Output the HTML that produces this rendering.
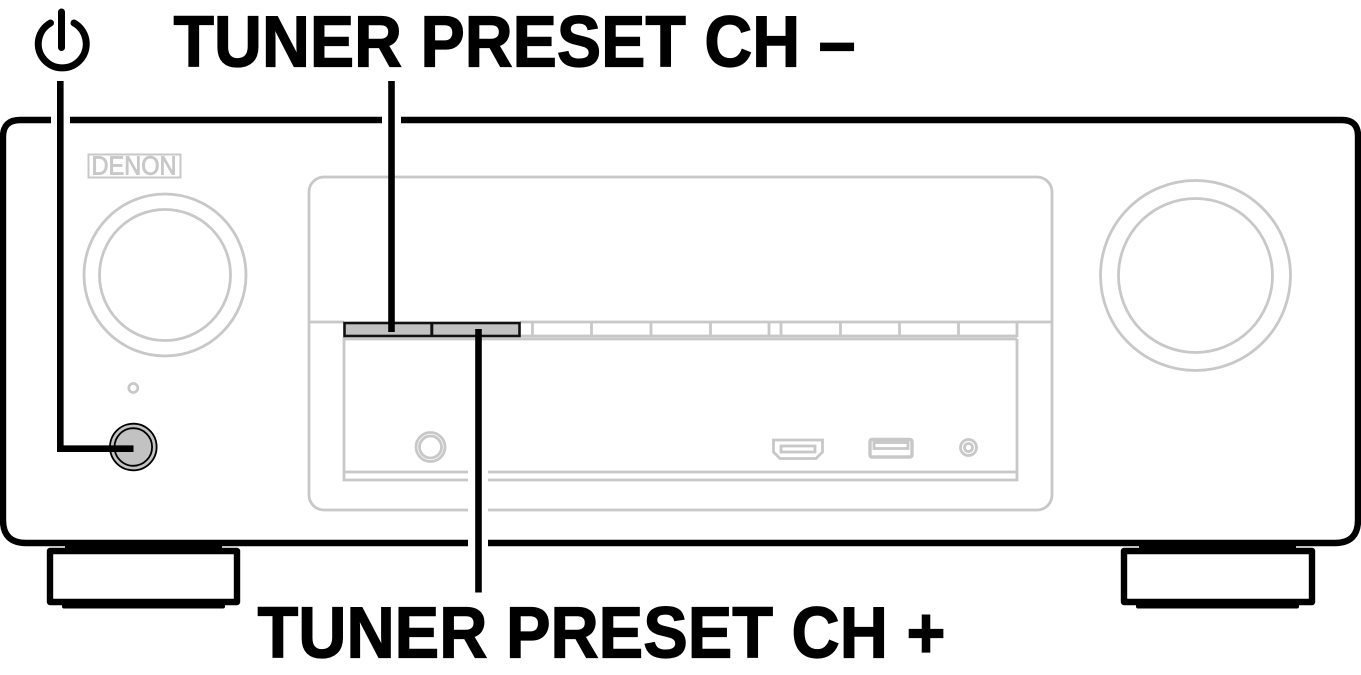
<!DOCTYPE html>
<html><head><meta charset="utf-8"><style>
html,body{margin:0;padding:0;background:#fff;overflow:hidden}
svg{display:block}
text{font-family:"Liberation Sans",sans-serif}
</style></head><body>
<svg width="1361" height="675" viewBox="0 0 1361 675" xmlns="http://www.w3.org/2000/svg">
<rect width="1361" height="675" fill="#fff"/>
<!-- gray drawing -->
<g fill="none" stroke="#c8c8c8" stroke-width="2.800">
  <rect x="309" y="177" width="743" height="333" rx="15"/>
  <path d="M309 322H344M1017 322H1052"/>
  <path d="M520 322H1017V337M520 336H1017M344 339H1017M344 337V480H1017V339M344 472H1017"/>
  <path d="M532.500 322V336M591.500 322V336M651 322V336M710.500 322V336M769 322V336M781 322V336M840.500 322V336M899.500 322V336M958.500 322V336"/>
  <circle cx="165" cy="275" r="81"/><circle cx="165" cy="275" r="65.500"/>
  <circle cx="1195.500" cy="275.500" r="95"/><circle cx="1195.500" cy="275.500" r="77"/>
  <circle cx="133.300" cy="388" r="4.500"/>
  <circle cx="430.500" cy="447" r="14.500"/><circle cx="430.500" cy="447" r="11"/>
  <path d="M773.500 440H822.500V452L816 458.500H780L773.500 452Z"/><rect x="781" y="446" width="34" height="6"/>
  <rect x="870" y="439.500" width="42" height="17.500" rx="2" stroke-width="3.400"/><rect x="874" y="442.500" width="34" height="6"/>
  <circle cx="968.500" cy="447.500" r="8"/><circle cx="968.500" cy="447.500" r="4"/>
</g>
<!-- DENON -->
<rect x="88.500" y="154.500" width="92" height="23" fill="none" stroke="#c8c8c8" stroke-width="2"/>
<text x="91.500" y="174.500" font-size="26" fill="#c8c8c8" stroke="#c8c8c8" stroke-width="0.900" textLength="85" lengthAdjust="spacingAndGlyphs">DENON</text>
<!-- body -->
<path d="M20 120H1342Q1358 120 1358 136V520Q1358 543 1335 543H26Q3 543 3 520V137Q3 120 20 120Z" fill="none" stroke="#000" stroke-width="6.400"/>
<!-- feet -->
<g fill="#fff" stroke="#000" stroke-width="6.400" stroke-linejoin="round">
  <rect x="50" y="551" width="187" height="51"/>
  <rect x="1124" y="551" width="188" height="51"/>
</g>
<g fill="#000">
  <rect x="65" y="540" width="157" height="10"/><rect x="62" y="600" width="163" height="8.500" rx="2"/>
  <rect x="1139" y="540" width="157" height="10"/><rect x="1136" y="600" width="163" height="8.500" rx="2"/>
</g>
<!-- highlighted buttons -->
<rect x="344.500" y="323" width="175" height="13" fill="#c2c2c2" stroke="#111" stroke-width="2.600"/>
<path d="M431.800 322V337" stroke="#111" stroke-width="3"/>
<circle cx="133.300" cy="447" r="23.300" fill="#c2c2c2" stroke="#000" stroke-width="1.800"/>
<circle cx="133.300" cy="447" r="18.800" fill="#c2c2c2" stroke="#000" stroke-width="1.800"/>
<!-- white gaps -->
<g fill="#fff">
  <rect x="51" y="115" width="19" height="10"/>
  <rect x="382" y="115" width="19" height="10"/>
  <rect x="468" y="465" width="20" height="84"/>
</g>
<!-- leader lines -->
<g fill="none" stroke="#000" stroke-width="6.600">
  <path d="M60.300 81V448.700H133.500"/>
  <path d="M391.500 81V332"/>
  <path d="M478.500 329V592.500"/>
</g>
<!-- power symbol -->
<g fill="none" stroke="#000" stroke-width="7" stroke-linecap="round">
  <path d="M50.500 23A24 24 0 1 0 74 23"/>
  <path d="M61.500 12V47.500"/>
</g>
<!-- labels -->
<text x="173.500" y="66.500" font-size="72" font-weight="700" fill="#000" stroke="#000" stroke-width="1.300" textLength="682" lengthAdjust="spacingAndGlyphs">TUNER PRESET CH –</text>
<text x="257.500" y="657.500" font-size="72" font-weight="700" fill="#000" stroke="#000" stroke-width="1.300" textLength="688" lengthAdjust="spacingAndGlyphs">TUNER PRESET CH +</text>
</svg>
</body></html>
